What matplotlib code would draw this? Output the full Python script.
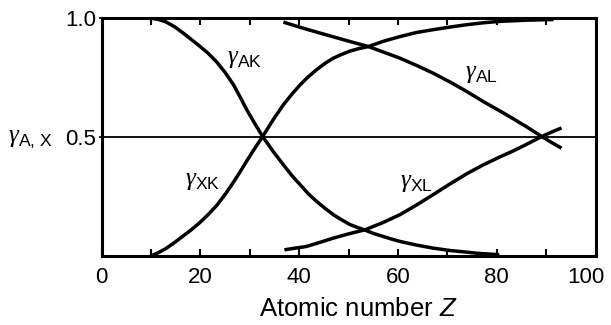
import matplotlib
matplotlib.use("Agg")
import matplotlib.pyplot as plt
from matplotlib.transforms import ScaledTranslation

plt.rcParams['font.family'] = ['Liberation Sans', 'DejaVu Sans']
plt.rcParams['mathtext.fontset'] = 'custom'
plt.rcParams['mathtext.rm'] = 'Liberation Sans'
plt.rcParams['mathtext.sf'] = 'Liberation Sans'
plt.rcParams['mathtext.it'] = 'Liberation Sans:italic'
plt.rcParams['mathtext.bf'] = 'Liberation Serif:italic'

# K shell: Auger yield and fluorescence yield vs atomic number
z_ak = [10.1, 11.5, 13, 14.8, 16.5, 18.2, 19.9, 21.6, 23.3, 25, 26.7, 28,
        29.4, 31, 32.6, 34.7, 36.8, 38.5, 40.2, 41.8, 43.5, 45.2, 46.9, 48.6,
        50.3, 51.8, 53.3, 55, 57, 58.7, 60.4, 63.7, 67.1, 70.5, 73.9, 76.2,
        78.5, 80.5]
g_ak = [1.0, 0.995, 0.985, 0.964, 0.938, 0.91, 0.882, 0.852, 0.816, 0.772,
        0.72, 0.67, 0.614, 0.557, 0.502, 0.44, 0.383, 0.338, 0.299, 0.262,
        0.229, 0.2, 0.173, 0.151, 0.131, 0.119, 0.108, 0.094, 0.081, 0.07,
        0.06, 0.045, 0.032, 0.022, 0.015, 0.01, 0.007, 0.004]

z_xk = [10.1, 11.5, 13, 14.8, 16.5, 18.2, 19.9, 21.6, 23.3, 25, 26.7, 28,
        29.4, 31, 32.6, 34.7, 36.8, 38.5, 40.2, 41.8, 43.5, 45.2, 46.9, 48.6,
        50.3, 52, 54, 57, 60.4, 63.7, 67.1, 70.5, 73.9, 77.2, 80.6, 86, 91.5]
g_xk = [0.0, 0.013, 0.03, 0.056, 0.083, 0.11, 0.14, 0.174, 0.212, 0.258,
        0.31, 0.352, 0.4, 0.452, 0.502, 0.572, 0.636, 0.68, 0.72, 0.753,
        0.783, 0.81, 0.832, 0.848, 0.862, 0.872, 0.881, 0.903, 0.923, 0.94,
        0.952, 0.963, 0.973, 0.981, 0.987, 0.992, 0.995]

# L shell: Auger yield and fluorescence yield vs atomic number
z_al = [36.8, 40.2, 43.5, 46.9, 50.3, 54, 57, 60.4, 63.7, 67.1, 70.5, 73.9,
        77.2, 80.6, 83.4, 86.1, 89.1, 91, 93.1]
g_al = [0.984, 0.962, 0.942, 0.922, 0.902, 0.881, 0.858, 0.832, 0.802,
        0.769, 0.732, 0.692, 0.65, 0.61, 0.576, 0.542, 0.502, 0.478, 0.453]

z_xl = [37, 41.5, 44, 46.9, 50, 53.3, 57, 60.4, 63.7, 67.1, 70.5, 73.9, 77.2,
        80.6, 83.4, 86.1, 89.1, 91, 93.1]
g_xl = [0.025, 0.039, 0.055, 0.074, 0.092, 0.109, 0.14, 0.173, 0.213, 0.257,
        0.302, 0.345, 0.382, 0.416, 0.442, 0.47, 0.502, 0.52, 0.538]

curve_labels = [r'$\mathbf{\gamma}_{\rm AK}$', r'$\mathbf{\gamma}_{\rm XK}$',
                r'$\mathbf{\gamma}_{\rm AL}$', r'$\mathbf{\gamma}_{\rm XL}$']
label_z = [29.0, 20.4, 76.8, 63.7]
label_g = [0.832, 0.318, 0.771, 0.312]

x_ticks = [0, 10, 20, 30, 40, 50, 60, 70, 80, 90, 100]
x_ticklabels = ['0', '', '20', '', '40', '', '60', '', '80', '', '100']
y_ticks = [0.5, 1.0]
y_ticklabels = ['0.5', '1.0']

fig = plt.figure(figsize=(6.11, 3.25), dpi=100)
ax = fig.add_axes([0.1663, 0.2132, 0.8085, 0.7305])

ax.axhline(0.5, color='black', lw=1.3, zorder=1)
for zs, gs in [(z_ak, g_ak), (z_xk, g_xk), (z_al, g_al), (z_xl, g_xl)]:
    ax.plot(zs, gs, color='black', lw=2.5, solid_capstyle='butt',
            solid_joinstyle='round', zorder=2)

for txt, zx, gy in zip(curve_labels, label_z, label_g):
    ax.text(zx, gy, txt, fontsize=18, ha='center', va='center')

ax.set_xlim(0, 100)
ax.set_ylim(0, 1.0)
ax.set_xticks(x_ticks)
ax.set_xticklabels(x_ticklabels, fontsize=16)
ax.set_yticks(y_ticks)
ax.set_yticklabels(y_ticklabels, fontsize=16)
ax.tick_params(axis='x', direction='in', top=True, length=5, width=1.5, pad=8)
ax.tick_params(axis='y', direction='out', length=2, width=1.2, pad=2)
for sp in ax.spines.values():
    sp.set_linewidth(2.2)

# pull the last x tick label inside the figure edge
last = ax.get_xticklabels()[-1]
last.set_transform(last.get_transform() + ScaledTranslation(-10 / 100, 0, fig.dpi_scale_trans))

ax.set_xlabel(r'Atomic number $\mathit{Z}$', fontsize=18.5)
ax.xaxis.set_label_coords(0.52, -0.175)
ax.xaxis.label.set_va('top')
ax.set_ylabel(r'$\mathbf{\gamma}_{\rm A,\,X}$', fontsize=18, rotation=0,
              ha='left', va='center')
ax.yaxis.set_label_coords(-0.189, 0.497)

fig.savefig('out.png', dpi=100)
